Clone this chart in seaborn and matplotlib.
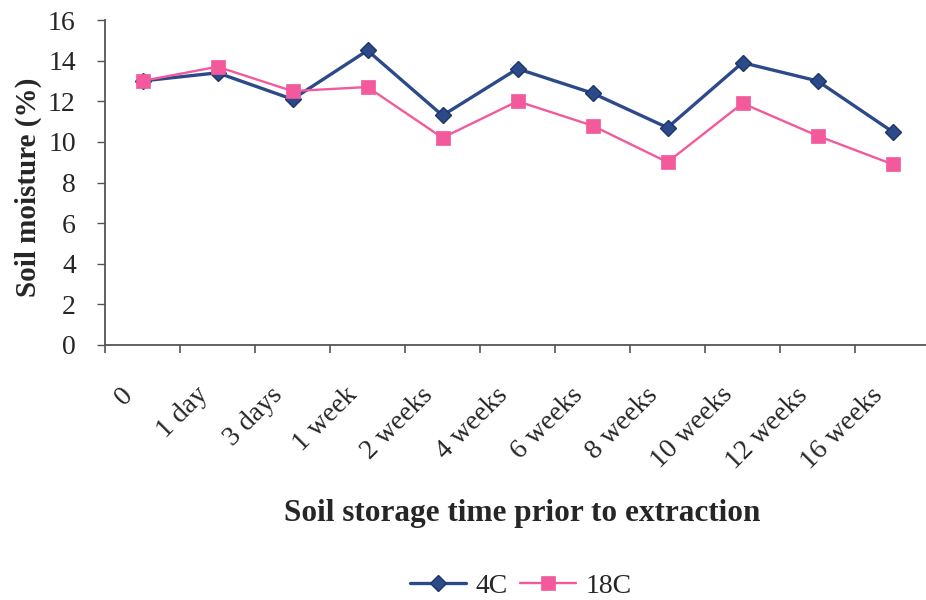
import matplotlib
matplotlib.use("Agg")
import matplotlib.pyplot as plt
import seaborn as sns
import pandas as pd
import numpy as np

categories = ["0", "1 day", "3 days", "1 week", "2 weeks", "4 weeks", "6 weeks",
              "8 weeks", "10 weeks", "12 weeks", "16 weeks"]
moisture_4c = [13.0, 13.4, 12.1, 14.5, 11.3, 13.6, 12.4, 10.7, 13.9, 13.0, 10.5]
moisture_18c = [13.0, 13.7, 12.5, 12.7, 10.2, 12.0, 10.8, 9.0, 11.9, 10.3, 8.9]
series_names = ["4C", "18C"]
y_ticks = [0, 2, 4, 6, 8, 10, 12, 14, 16]

sns.set_theme(style="white")
plt.rcParams["font.family"] = ["Liberation Serif", "DejaVu Serif"]

idx = np.arange(len(categories))
df = pd.DataFrame({
    "pos": np.concatenate([idx, idx]),
    "val": moisture_4c + moisture_18c,
    "series": [series_names[0]] * len(categories) + [series_names[1]] * len(categories),
})

fig = plt.figure(figsize=(9.26, 6.0), dpi=100)
ax = fig.add_axes([105 / 926, 1 - 345 / 600, 825 / 926, 325 / 600])

c_blue = "#2C4A8A"
c_pink = "#F25A9C"

sns.lineplot(data=df[df.series == series_names[0]], x="pos", y="val", ax=ax,
             color=c_blue, lw=2.4, marker="D", markersize=8.5,
             markeredgecolor="#1E3566", markeredgewidth=1.0, label=series_names[0])
sns.lineplot(data=df[df.series == series_names[1]], x="pos", y="val", ax=ax,
             color=c_pink, lw=1.7, marker="s", markersize=10,
             markeredgecolor=c_pink, markeredgewidth=0.5, label=series_names[1])

ax.set_xlim(-0.5, len(categories) - 0.5)
ax.set_ylim(0, 16)
ax.set_yticks(y_ticks)
ax.set_yticklabels([str(t) for t in y_ticks], fontsize=20)

# tick marks sit between categories; labels (no marks) hang just left of centres
ax.set_xticks(np.arange(len(categories) + 1) - 0.5)
ax.set_xticklabels([])
ax.set_xticks(idx - 0.3, minor=True)
ax.set_xticklabels(categories, minor=True, rotation=45, ha="right",
                   rotation_mode="anchor", fontsize=20)
ax.tick_params(axis="x", which="major", direction="out", length=6, width=1.2,
               color="#555555", bottom=True)
ax.tick_params(axis="x", which="minor", length=0, pad=27)
ax.tick_params(axis="y", which="major", direction="out", length=6, width=1.0,
               color="#555555", left=True, pad=15)

for s in ["top", "right"]:
    ax.spines[s].set_visible(False)
for s in ["left", "bottom"]:
    ax.spines[s].set_color("#555555")
    ax.spines[s].set_linewidth(1.3)

ax.set_ylabel("Soil moisture (%)", fontsize=21, fontweight="bold")
ax.yaxis.label.set_va("center")
ax.yaxis.set_label_coords((28 - 105) / 825, (345 - 187) / 325)
ax.set_xlabel("Soil storage time prior to extraction", fontsize=22.5,
              fontweight="bold")
ax.xaxis.label.set_va("center")
ax.xaxis.set_label_coords((522 - 105) / 825, (345 - 513) / 325)

leg = ax.legend(loc="center", bbox_to_anchor=(521 / 926, 1 - 586 / 600),
                bbox_transform=fig.transFigure, ncol=2, frameon=False,
                fontsize=20, handlelength=2.0, columnspacing=0.45,
                handletextpad=0.35, borderpad=0, borderaxespad=0)

fig.savefig("out.png", dpi=100)
